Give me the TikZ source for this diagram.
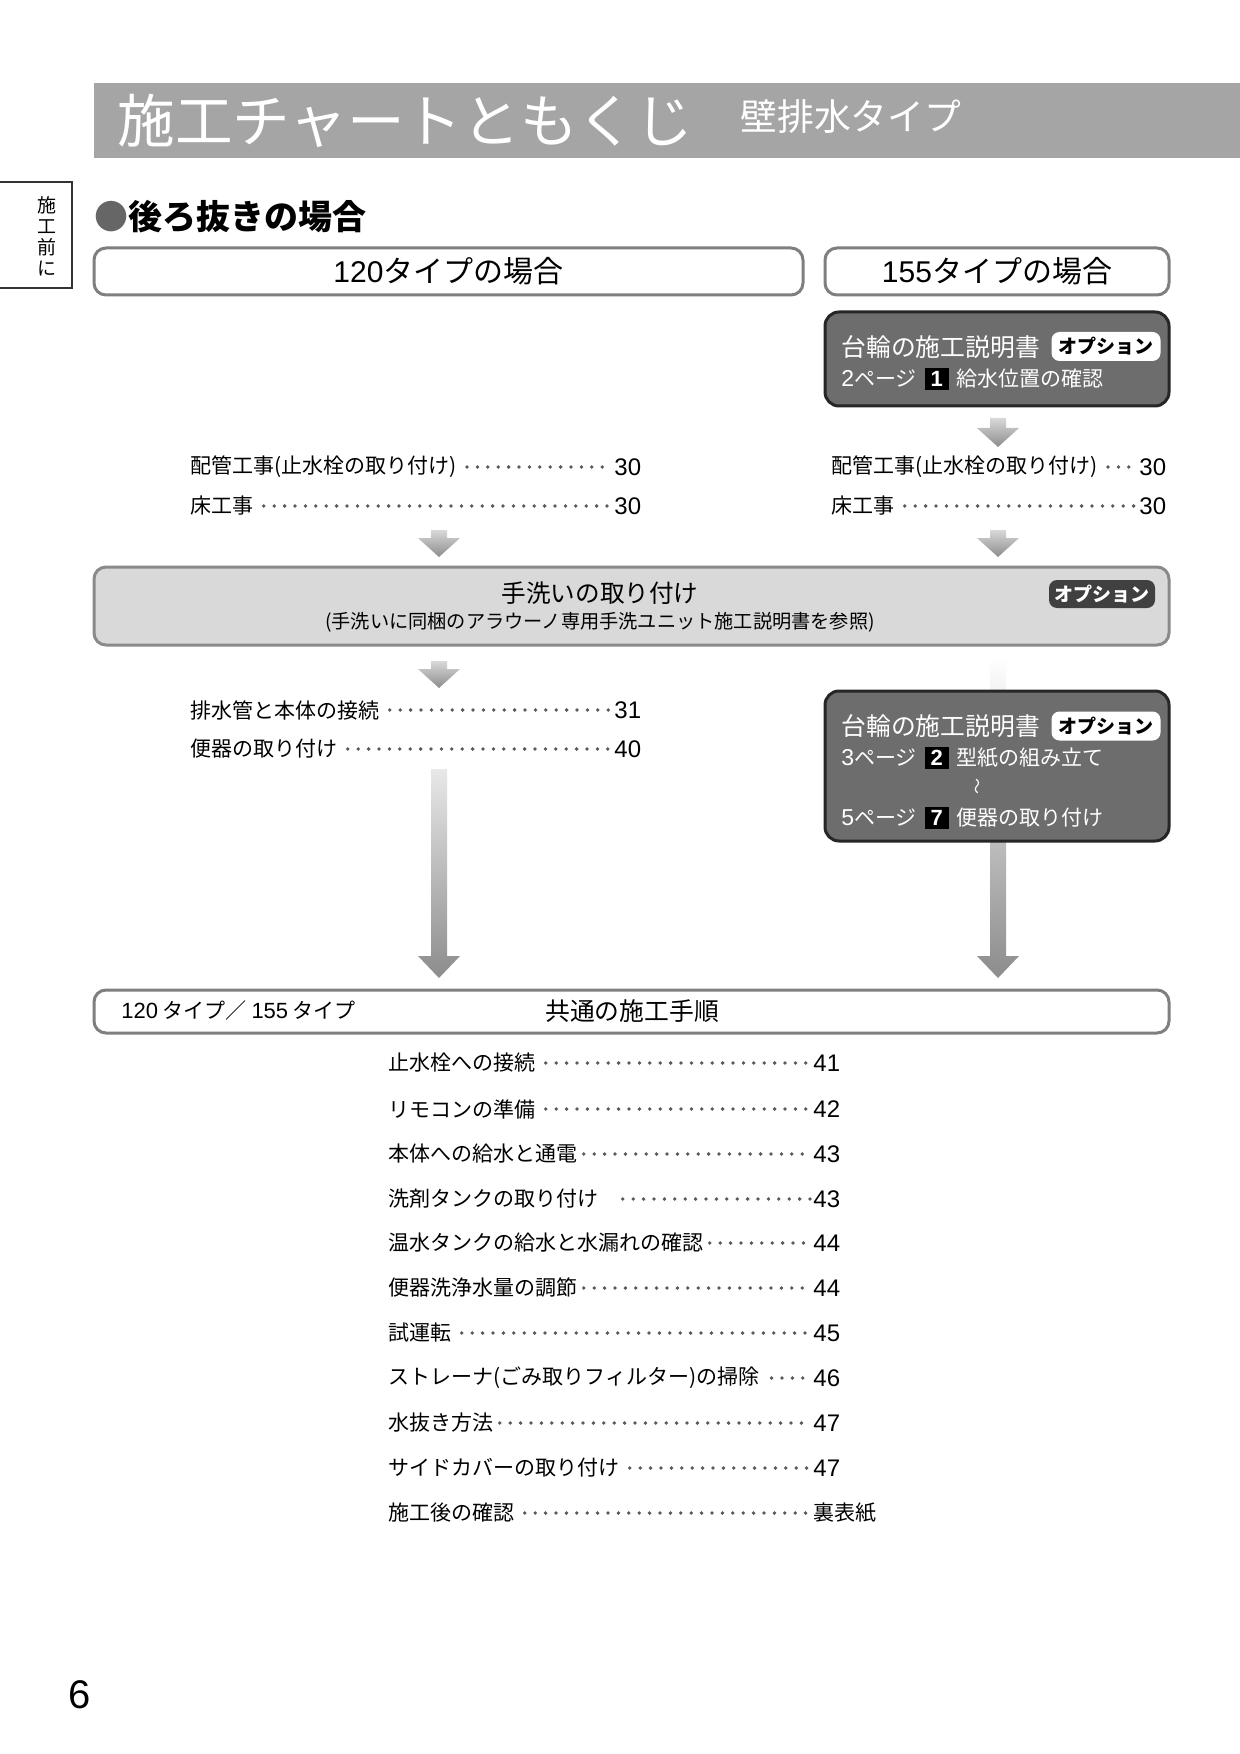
\documentclass[tikz,border=0pt]{standalone}
\usepackage{fontspec}
\setmainfont{Noto Sans CJK JP}
\newfontfamily\numfont{Liberation Sans}
\usepackage{xcolor}
\usetikzlibrary{positioning}
\definecolor{headgray}{HTML}{A5A5A5}
\definecolor{framegray}{HTML}{7F7F7F}
\definecolor{manualfill}{HTML}{6D6D6D}
\definecolor{manualline}{HTML}{262626}
\definecolor{washfill}{HTML}{D9D9D9}
\definecolor{washline}{HTML}{8A8A8A}
\definecolor{tagfill}{HTML}{404040}
\definecolor{leadergray}{HTML}{5A5A5A}
\definecolor{arrowlight}{HTML}{E8E8E8}
\definecolor{arrowdark}{HTML}{8C8C8C}
\newcommand{\sizept}[1]{\fontsize{#1}{#1}\selectfont}
\newcommand{\stepno}[1]{\hspace{4pt}{\setlength{\fboxsep}{1.5pt}\colorbox{black}{\makebox[0.85em]{\numfont\sizept{11}\color{white}\bfseries #1}}}\hspace{4pt}}
% gray block arrow: x, top, bottom, top colour, head length
\newcommand{\flowarrow}[5]{%
  \shade[top color=#4, bottom color=arrowdark]
    (#1-8,#2) -- (#1+8,#2) -- (#1+8,#3-#5) -- (#1+21,#3-#5) -- (#1,#3)
    -- (#1-21,#3-#5) -- (#1-8,#3-#5) -- cycle;}

\begin{document}
\begin{tikzpicture}[x=0.5pt, y=-0.5pt,
      framebox/.style={draw=framegray, line width=1.5pt, rounded corners=6pt, fill=white, inner sep=0pt},
      manualbox/.style={draw=manualline, line width=1.5pt, rounded corners=7pt, fill=manualfill,
        minimum width=172pt, inner sep=0pt},
      leader/.style={leadergray, line width=1.9pt, line cap=round, dash pattern=on 0pt off 5.2pt}]
      % text styles
      \tikzstyle{entry} = [anchor=west, inner sep=0pt, font=\sizept{10.5}]
      \tikzstyle{pageno} = [anchor=west, inner sep=0pt, font=\numfont\sizept{12}]
      \tikzstyle{whitetext} = [anchor=west, inner sep=0pt, text=white]
      \tikzstyle{tagwhite} = [fill=white, rounded corners=4pt, inner sep=0pt, minimum width=54.5pt,
        minimum height=14.5pt, font=\sizept{9.5}\bfseries]
      \tikzstyle{tagdark} = [fill=tagfill, rounded corners=4pt, inner sep=0pt, minimum width=53pt,
        minimum height=14pt, text=white, font=\sizept{9.5}\bfseries]

      \useasboundingbox (0,0) rectangle (1240,1754);
      \fill[white] (0,0) rectangle (1240,1754);

      % page head
      \node (banner) [fill=headgray, anchor=north west, inner sep=0pt, minimum width=573pt,
        minimum height=37.5pt] at (94,83) {};
      \node (title) [whitetext, font=\sizept{28.8}] at (117,121) {施工チャートともくじ};
      \node (subtitle) [whitetext, font=\sizept{18.4}] at (740,117) {壁排水タイプ};

      % side tab
      \draw [line width=0.8pt, black!80] (0,182) -- (72,182) -- (72,288) -- (0,288);
      \node (tab) [align=center, inner sep=0pt, font=\sizept{9.5}] at (47,236)
        {施\\[1pt]工\\[1pt]前\\[1pt]に};

      \node (section) [anchor=west, inner sep=0pt, font=\sizept{17}\bfseries] at (94,217)
        {{\color{black!60}●}後ろ抜きの場合};

      % the two cases
      \node (case120) [framebox, minimum width=354.5pt, minimum height=23.5pt, font=\sizept{15}]
        at (448.5,271.5) {{\numfont 120}タイプの場合};
      \node (case155) [framebox, minimum width=172pt, minimum height=23.5pt, font=\sizept{15}]
        at (997,271.5) {{\numfont 155}タイプの場合};

      % first manual box (155)
      \node (manual1) [manualbox, minimum height=47pt] at (997,359) {};
      \node (manual1t) [whitetext, font=\sizept{12.4}] at (841,347) {台輪の施工説明書};
      \node (option1) [tagwhite] at (1106,346.5) {オプション};
      \node (manual1p) [whitetext, font=\sizept{10.5}] at (841,379) {{\numfont\sizept{11.5}2}ページ\stepno{1}給水位置の確認};

      \flowarrow{998}{418}{447}{washfill}{19}

      % piping and floor
      \node (pipeL) [entry] at (190,467) {配管工事(止水栓の取り付け)};
      \node (pipeLp) [pageno] at (614,467) {30};
      \node (floorL) [entry] at (190,506) {床工事};
      \node (floorLp) [pageno] at (614,506) {30};
      \node (pipeR) [entry] at (831,467) {配管工事(止水栓の取り付け)};
      \node (pipeRp) [pageno] at (1139,467) {30};
      \node (floorR) [entry] at (831,506) {床工事};
      \node (floorRp) [pageno] at (1139,506) {30};
      \draw [leader] ([xshift=5pt]pipeL.east) -- ([xshift=-1.5pt]pipeLp.west);
      \draw [leader] ([xshift=5pt]floorL.east) -- ([xshift=-1.5pt]floorLp.west);
      \draw [leader] ([xshift=5pt]pipeR.east) -- ([xshift=-1.5pt]pipeRp.west);
      \draw [leader] ([xshift=5pt]floorR.east) -- ([xshift=-1.5pt]floorRp.west);

      \flowarrow{439}{530}{557}{washfill}{19}
      \flowarrow{998}{530}{557}{washfill}{19}

      % hand wash unit
      \node (wash) [framebox, draw=washline, fill=washfill, minimum width=537.5pt, minimum height=39pt]
        at (631.5,606) {};
      \node (washt) [inner sep=0pt, font=\sizept{12.3}] at (600,593) {手洗いの取り付け};
      \node (washs) [inner sep=0pt, font=\sizept{9.6}] at (600,622)
        {(手洗いに同梱のアラウーノ専用手洗ユニット施工説明書を参照)};
      \node (option0) [tagdark] at (1102,594) {オプション};

      \flowarrow{439}{661}{688}{washfill}{19}
      \flowarrow{998}{657}{978}{white}{22}

      % drain and bowl (120)
      \node (drainL) [entry] at (190,710) {排水管と本体の接続};
      \node (drainLp) [pageno] at (614,710) {31};
      \node (bowlL) [entry] at (190,749) {便器の取り付け};
      \node (bowlLp) [pageno] at (614,749) {40};
      \draw [leader] ([xshift=5pt]drainL.east) -- ([xshift=-1.5pt]drainLp.west);
      \draw [leader] ([xshift=5pt]bowlL.east) -- ([xshift=-1.5pt]bowlLp.west);

      \flowarrow{439}{769}{978}{arrowlight}{22}

      % second manual box (155)
      \node (manual2) [manualbox, minimum height=75pt] at (997,766) {};
      \node (manual2t) [whitetext, font=\sizept{12.4}] at (841,726) {台輪の施工説明書};
      \node (option2) [tagwhite] at (1106,726) {オプション};
      \node (manual2a) [whitetext, font=\sizept{10.5}] at (841,758) {{\numfont\sizept{11.5}3}ページ\stepno{2}型紙の組み立て};
      \node (manual2w) [inner sep=0pt, text=white, rotate=90, font=\sizept{8}] at (979,786) {〜};
      \node (manual2b) [whitetext, font=\sizept{10.5}] at (841,818) {{\numfont\sizept{11.5}5}ページ\stepno{7}便器の取り付け};

      % common steps
      \node (common) [framebox, minimum width=537.5pt, minimum height=21.5pt] at (631.5,1011.5) {};
      \node (commonl) [anchor=west, inner sep=0pt, font=\sizept{10.5}] at (121,1011)
        {{\numfont\sizept{11}120} タイプ／ {\numfont\sizept{11}155} タイプ};
      \node (commont) [inner sep=0pt, font=\sizept{12.4}] at (632,1011) {共通の施工手順};

      \node (s1) [entry] at (388,1063) {止水栓への接続};
      \node (s1p) [pageno] at (813,1063) {41};
      \node (s2) [entry] at (388,1109) {リモコンの準備};
      \node (s2p) [pageno] at (813,1109) {42};
      \node (s3) [entry] at (388,1154) {本体への給水と通電};
      \node (s3p) [pageno] at (813,1154) {43};
      \node (s4) [entry] at (388,1199) {洗剤タンクの取り付け};
      \node (s4p) [pageno] at (813,1199) {43};
      \node (s5) [entry] at (388,1243) {温水タンクの給水と水漏れの確認};
      \node (s5p) [pageno] at (813,1243) {44};
      \node (s6) [entry] at (388,1288) {便器洗浄水量の調節};
      \node (s6p) [pageno] at (813,1288) {44};
      \node (s7) [entry] at (388,1333) {試運転};
      \node (s7p) [pageno] at (813,1333) {45};
      \node (s8) [entry] at (388,1378) {ストレーナ(ごみ取りフィルター)の掃除};
      \node (s8p) [pageno] at (813,1378) {46};
      \node (s9) [entry] at (388,1423) {水抜き方法};
      \node (s9p) [pageno] at (813,1423) {47};
      \node (s10) [entry] at (388,1468) {サイドカバーの取り付け};
      \node (s10p) [pageno] at (813,1468) {47};
      \node (s11) [entry] at (388,1513) {施工後の確認};
      \node (s11p) [pageno, font=\sizept{10.5}] at (813,1513) {裏表紙};

      \draw [leader] ([xshift=5pt]s1.east) -- ([xshift=-1.5pt]s1p.west);
      \draw [leader] ([xshift=5pt]s2.east) -- ([xshift=-1.5pt]s2p.west);
      \draw [leader] ([xshift=3pt]s3.east) -- ([xshift=-1.5pt]s3p.west);
      \draw [leader] ([xshift=12pt]s4.east) -- ([xshift=-1.5pt]s4p.west);
      \draw [leader] ([xshift=3pt]s5.east) -- ([xshift=-1.5pt]s5p.west);
      \draw [leader] ([xshift=3pt]s6.east) -- ([xshift=-1.5pt]s6p.west);
      \draw [leader] ([xshift=5pt]s7.east) -- ([xshift=-1.5pt]s7p.west);
      \draw [leader] ([xshift=6pt]s8.east) -- ([xshift=-1.5pt]s8p.west);
      \draw [leader] ([xshift=3pt]s9.east) -- ([xshift=-1.5pt]s9p.west);
      \draw [leader] ([xshift=5pt]s10.east) -- ([xshift=-1.5pt]s10p.west);
      \draw [leader] ([xshift=5pt]s11.east) -- ([xshift=-1.5pt]s11p.west);

      % page number
      \node (folio) [inner sep=0pt, font=\numfont\sizept{20}] at (80,1695) {6};
\end{tikzpicture}
\end{document}
